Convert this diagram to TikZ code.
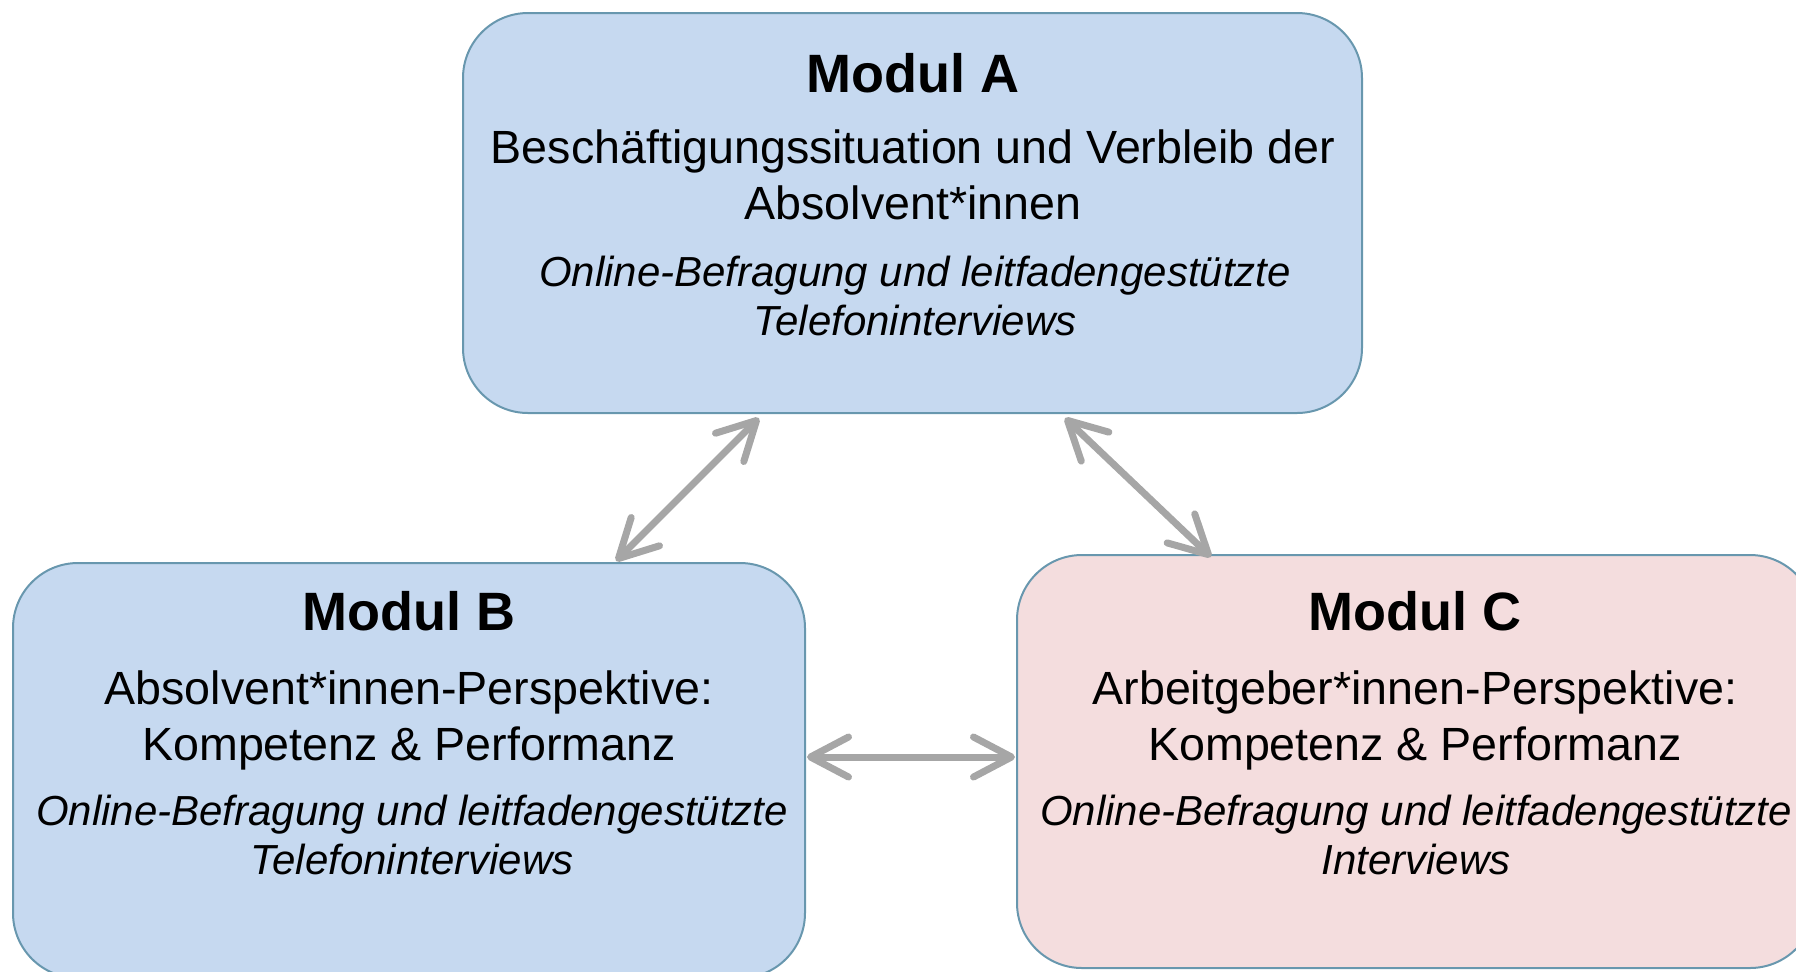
\documentclass[tikz,border=0pt]{standalone}
\usepackage{fontspec}
\setmainfont{Liberation Sans}
\usetikzlibrary{arrows.meta,calc}
\definecolor{boxblue}{RGB}{198,217,240}
\definecolor{boxpink}{RGB}{244,221,222}
\definecolor{boxline}{RGB}{104,151,174}
\definecolor{arrgray}{RGB}{166,166,166}
\tikzset{
  modbox/.style={draw=boxline, line width=1pt, rounded corners=32.5pt, inner sep=0pt},
  ttl/.style={anchor=base, inner sep=0pt, font=\fontsize{27}{32}\selectfont\bfseries},
  body/.style={anchor=base, inner sep=0pt, font=\fontsize{23.3}{28}\selectfont},
  meth/.style={anchor=base, inner sep=0pt, font=\fontsize{21}{24.5}\selectfont\itshape},
  link/.style={draw=arrgray, line width=3.5pt,
    {Straight Barb[length=19pt,width=20pt,round]}-{Straight Barb[length=19pt,width=20pt,round]}}
}
\begin{document}
\begin{tikzpicture}[x=0.5pt,y=-0.5pt]
\useasboundingbox (0,0) rectangle (1796,971);
\clip (0,0) rectangle (1796,971);
\node[modbox, fill=boxblue, minimum width=449.5pt, minimum height=200pt] (A) at (912.5,213) {};
\node[modbox, fill=boxblue, minimum width=396pt, minimum height=207.5pt] (B) at (409,770.5) {};
\node[modbox, fill=boxpink, minimum width=399pt, minimum height=206.5pt] (C) at (1416,761.5) {};
% Modul A
\node[ttl] (At) at (913,92) {Modul A};
\node[body] (A1) at (913,163) {Beschäftigungssituation und Verbleib der};
\node[body] (A2) at (913,219) {Absolvent*innen};
\node[meth] (A3) at (915,286) {Online-Befragung und leitfadengestützte};
\node[meth] (A4) at (915,335) {Telefoninterviews};
% Modul B
\node[ttl] (Bt) at (409,630) {Modul B};
\node[body] (B1) at (409,704) {Absolvent*innen-Perspektive:};
\node[body] (B2) at (409,760) {Kompetenz \& Performanz};
\node[meth] (B3) at (412,825) {Online-Befragung und leitfadengestützte};
\node[meth] (B4) at (412,874) {Telefoninterviews};
% Modul C
\node[ttl] (Ct) at (1415,630) {Modul C};
\node[body] (C1) at (1415,704) {Arbeitgeber*innen-Perspektive:};
\node[body] (C2) at (1415,760) {Kompetenz \& Performanz};
\node[meth] (C3) at (1416,825) {Online-Befragung und leitfadengestützte};
\node[meth] (C4) at (1416,874) {Interviews};
% connectors
\draw[link] ($(A.south)+(-153.5,4)$) -- ($(B.north)+(207,-1)$);
\draw[link] ($(A.south)+(152.5,4)$) -- ($(C.north)+(-205,3)$);
\draw[link] ($(B.east)+(1,-13.5)$) -- ($(C.west)+(-1,-4.5)$);
\end{tikzpicture}
\end{document}
